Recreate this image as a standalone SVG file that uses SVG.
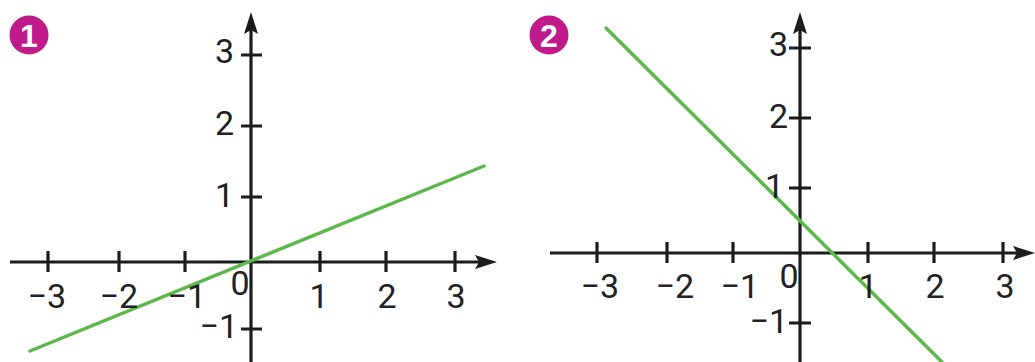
<svg xmlns="http://www.w3.org/2000/svg" width="1035" height="362" viewBox="0 0 1035 362">
<style>
.ax{stroke:#1c1c1c;stroke-width:3.2;fill:none}
.tk{stroke:#1c1c1c;stroke-width:3.2}
.ln{stroke:#5cb84a;stroke-width:3.5;fill:none;stroke-linecap:round}
.lb{font-family:Roboto,"Liberation Sans",sans-serif;font-size:34px;fill:#222}
.e{text-anchor:end}
.m{text-anchor:middle}
.bd{fill:#c0198a}
.bt{font-family:"Liberation Sans",Roboto,sans-serif;font-weight:bold;font-size:32px;fill:#fff;text-anchor:middle}
</style>
<defs>
<marker id="ar" viewBox="0 0 22 14" refX="12" refY="7" markerWidth="22" markerHeight="14" markerUnits="userSpaceOnUse" orient="auto">
<path d="M0,0 L22,7 L0,14 L4,7 z" fill="#1c1c1c"/>
</marker>
</defs>
<g id="badge1"><circle class="bd" cx="29" cy="35" r="19.5"/><text class="bt" x="29" y="46.5">1</text></g>
<g id="badge2"><circle class="bd" cx="549" cy="35" r="19.5"/><text class="bt" x="549" y="46.5">2</text></g>
<g id="chart1">
<g id="axes1">
<line class="ax" x1="10" y1="262" x2="487" y2="262" marker-end="url(#ar)"/>
<line class="ax" x1="251" y1="362" x2="251" y2="22" marker-end="url(#ar)"/>
<path class="tk" d="M48,251V272M119,251V272M185,251V272M320,251V272M386,251V272M455,251V272M241,55H262M241,126H262M241,197H262M241,329H262"/>
</g>
<path class="ln" d="M30,351 L484,166"/>
<g id="labels1">
<text class="lb e" x="66" y="308">−3</text>
<text class="lb e" x="138" y="308">−2</text>
<text class="lb e" x="206" y="308">−1</text>
<text class="lb m" x="240" y="295">0</text>
<text class="lb m" x="319" y="308">1</text>
<text class="lb m" x="387" y="308">2</text>
<text class="lb m" x="456" y="308">3</text>
<text class="lb e" x="234" y="63">3</text>
<text class="lb e" x="234" y="135">2</text>
<text class="lb e" x="234" y="207">1</text>
<text class="lb e" x="238" y="338">−1</text>
</g>
</g>
<g id="chart2">
<g id="axes2">
<line class="ax" x1="550" y1="253" x2="1025" y2="253" marker-end="url(#ar)"/>
<line class="ax" x1="800" y1="362" x2="800" y2="22" marker-end="url(#ar)"/>
<path class="tk" d="M597,242V263M667,242V263M733,242V263M868,242V263M934,242V263M1003,242V263M789,48H811M789,118H811M789,188H811M789,323H811"/>
</g>
<path class="ln" d="M606,28 L946,366"/>
<g id="labels2">
<text class="lb e" x="619" y="298">−3</text>
<text class="lb e" x="694" y="298">−2</text>
<text class="lb e" x="759" y="298">−1</text>
<text class="lb m" x="789" y="288">0</text>
<text class="lb m" x="868" y="298">1</text>
<text class="lb m" x="935" y="298">2</text>
<text class="lb m" x="1005" y="298">3</text>
<text class="lb e" x="788" y="56">3</text>
<text class="lb e" x="788" y="128">2</text>
<text class="lb e" x="784" y="198">1</text>
<text class="lb e" x="788" y="333">−1</text>
</g>
</g>
</svg>
